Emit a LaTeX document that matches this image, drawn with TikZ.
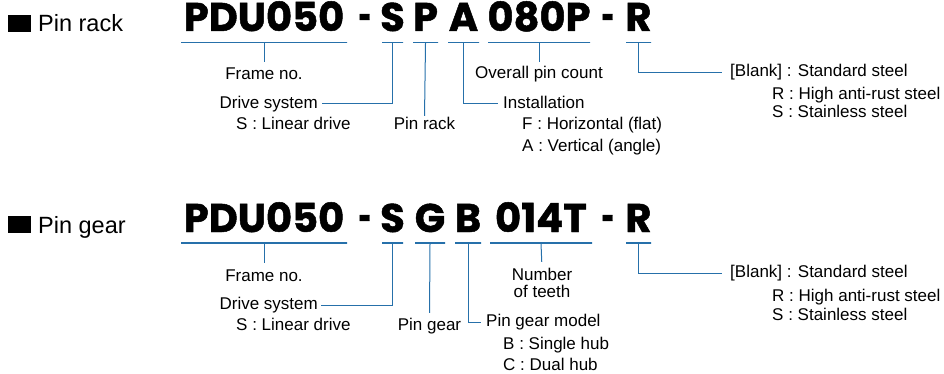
\documentclass[tikz,border=0pt]{standalone}
\usepackage{fontspec}
\usepackage{graphicx}
\setmainfont{Liberation Sans}
\newfontfamily\codefont{Poppins}[BoldFeatures={FakeBold=1.2}]
\usetikzlibrary{positioning}
\definecolor{leadblue}{RGB}{38,112,170}

\begin{document}
\begin{tikzpicture}[x=1pt,y=-1pt,
    code/.style={anchor=base,inner sep=0pt,font=\codefont\bfseries\fontsize{40}{40}\selectfont},
    head/.style={anchor=base west,inner sep=0pt,font=\fontsize{23.5}{26}\selectfont},
    txt/.style={inner sep=0pt,text height=12pt,text depth=3.5pt,font=\fontsize{17}{18}\selectfont},
    bar/.style={draw=leadblue,line width=1.3pt,minimum height=0pt,inner sep=0pt,minimum width=#1},
    lead/.style={draw=leadblue,line width=1pt}]
    \useasboundingbox (0,0) rectangle (944,374);

    % Pin rack
    \fill (8,15) rectangle (31,32);
    \node[head] (rackhead) at (38,32) {Pin rack};
    \node[code] (rframecode) at (264,31) {PDU050};
    \node[code] (rdasha) at (365,31) {\scalebox{0.55}[1]{-}};
    \node[code] (rdrivecode) at (392.5,31) {S};
    \node[code] (rtypecode) at (425.5,31) {P};
    \node[code] (rinstcode) at (463.5,31) {A};
    \node[code] (rcountcode) at (539,31) {080P};
    \node[code] (rdashb) at (608,31) {\scalebox{0.55}[1]{-}};
    \node[code] (rmatcode) at (638.5,31) {R};

    \node[bar=166pt] (rbarframe) at (264,42.5) {};
    \node[bar=21pt] (rbardrive) at (392.5,42.5) {};
    \node[bar=25pt] (rbartype) at (425.5,42.5) {};
    \node[bar=31pt] (rbarinst) at (463.5,42.5) {};
    \node[bar=102pt] (rbarcount) at (539,42.5) {};
    \node[bar=25pt] (rbarmat) at (638.5,42.5) {};

    \node[txt,anchor=base] (rframe) at (264,80) {Frame no.};
    \node[txt,anchor=east,inner xsep=4pt] (rdrive) at (322,104) {Drive system};
    \node[txt,anchor=base west] (rdrivea) at (236,130) {S : Linear drive};
    \node[txt,anchor=base] (rtype) at (424.5,130) {Pin rack};
    \node[txt,anchor=west,inner xsep=5pt] (rinst) at (498,104) {Installation};
    \node[txt,anchor=base west] (rinsta) at (522,130) {F : Horizontal (flat)};
    \node[txt,anchor=base west] (rinstb) at (522,152) {A : Vertical (angle)};
    \node[txt,anchor=base] (rcount) at (539,79) {Overall pin count};
    \node[txt,anchor=west,inner xsep=8pt] (rmat) at (722,72.5) {[Blank] : Standard steel};
    \node[txt,anchor=base west] (rmata) at (772,100) {R : High anti-rust steel};
    \node[txt,anchor=base west] (rmatb) at (772,118) {S : Stainless steel};

    \draw[lead,shorten >=6pt] (rbarframe.south) -- (rframe.north);
    \draw[lead] (rbardrive.south) |- (rdrive.east);
    \draw[lead,shorten >=2pt] (rbartype.south) -- (rtype.north);
    \draw[lead] (rbarinst.south) |- (rinst.west);
    \draw[lead,shorten >=5pt] (rbarcount.south) -- (rcount.north);
    \draw[lead] (rbarmat.south) |- (rmat.west);

    % Pin gear
    \fill (8,216) rectangle (31,233);
    \node[head] (gearhead) at (38,233) {Pin gear};
    \node[code] (gframecode) at (264,232) {PDU050};
    \node[code] (gdasha) at (365,232) {\scalebox{0.55}[1]{-}};
    \node[code] (gdrivecode) at (392.5,232) {S};
    \node[code] (gtypecode) at (430,232) {G};
    \node[code] (gmodelcode) at (468,232) {B};
    \node[code] (gteethcode) at (541,232) {014T};
    \node[code] (gdashb) at (608,232) {\scalebox{0.55}[1]{-}};
    \node[code] (gmatcode) at (638.5,232) {R};

    \node[bar=166pt] (gbarframe) at (264,243) {};
    \node[bar=21pt] (gbardrive) at (392.5,243) {};
    \node[bar=30pt] (gbartype) at (430,243) {};
    \node[bar=26pt] (gbarmodel) at (468,243) {};
    \node[bar=102pt] (gbarteeth) at (541,243) {};
    \node[bar=25pt] (gbarmat) at (638.5,243) {};

    \node[txt,anchor=base] (gframe) at (264,281) {Frame no.};
    \node[txt,anchor=east,inner xsep=3pt] (gdrive) at (321,305) {Drive system};
    \node[txt,anchor=base west] (gdrivea) at (236,330) {S : Linear drive};
    \node[txt,anchor=base] (gtype) at (429.5,330) {Pin gear};
    \node[txt,anchor=west,inner xsep=5pt] (gmodel) at (481,322) {Pin gear model};
    \node[txt,anchor=base west] (gmodela) at (503,349) {B : Single hub};
    \node[txt,anchor=base west] (gmodelb) at (503,370) {C : Dual hub};
    \node[txt,anchor=base] (gteeth) at (542,280) {Number};
    \node[txt,anchor=base] (gteetha) at (542,297) {of teeth};
    \node[txt,anchor=west,inner xsep=8pt] (gmat) at (722,273.5) {[Blank] : Standard steel};
    \node[txt,anchor=base west] (gmata) at (772,301) {R : High anti-rust steel};
    \node[txt,anchor=base west] (gmatb) at (772,320) {S : Stainless steel};

    \draw[lead,shorten >=6pt] (gbarframe.south) -- (gframe.north);
    \draw[lead] (gbardrive.south) |- (gdrive.east);
    \draw[lead,shorten >=5pt] (gbartype.south) -- (gtype.north);
    \draw[lead] (gbarmodel.south) |- (gmodel.west);
    \draw[lead,shorten >=6pt] (gbarteeth.south) -- (gteeth.north);
    \draw[lead] (gbarmat.south) |- (gmat.west);
\end{tikzpicture}
\end{document}
